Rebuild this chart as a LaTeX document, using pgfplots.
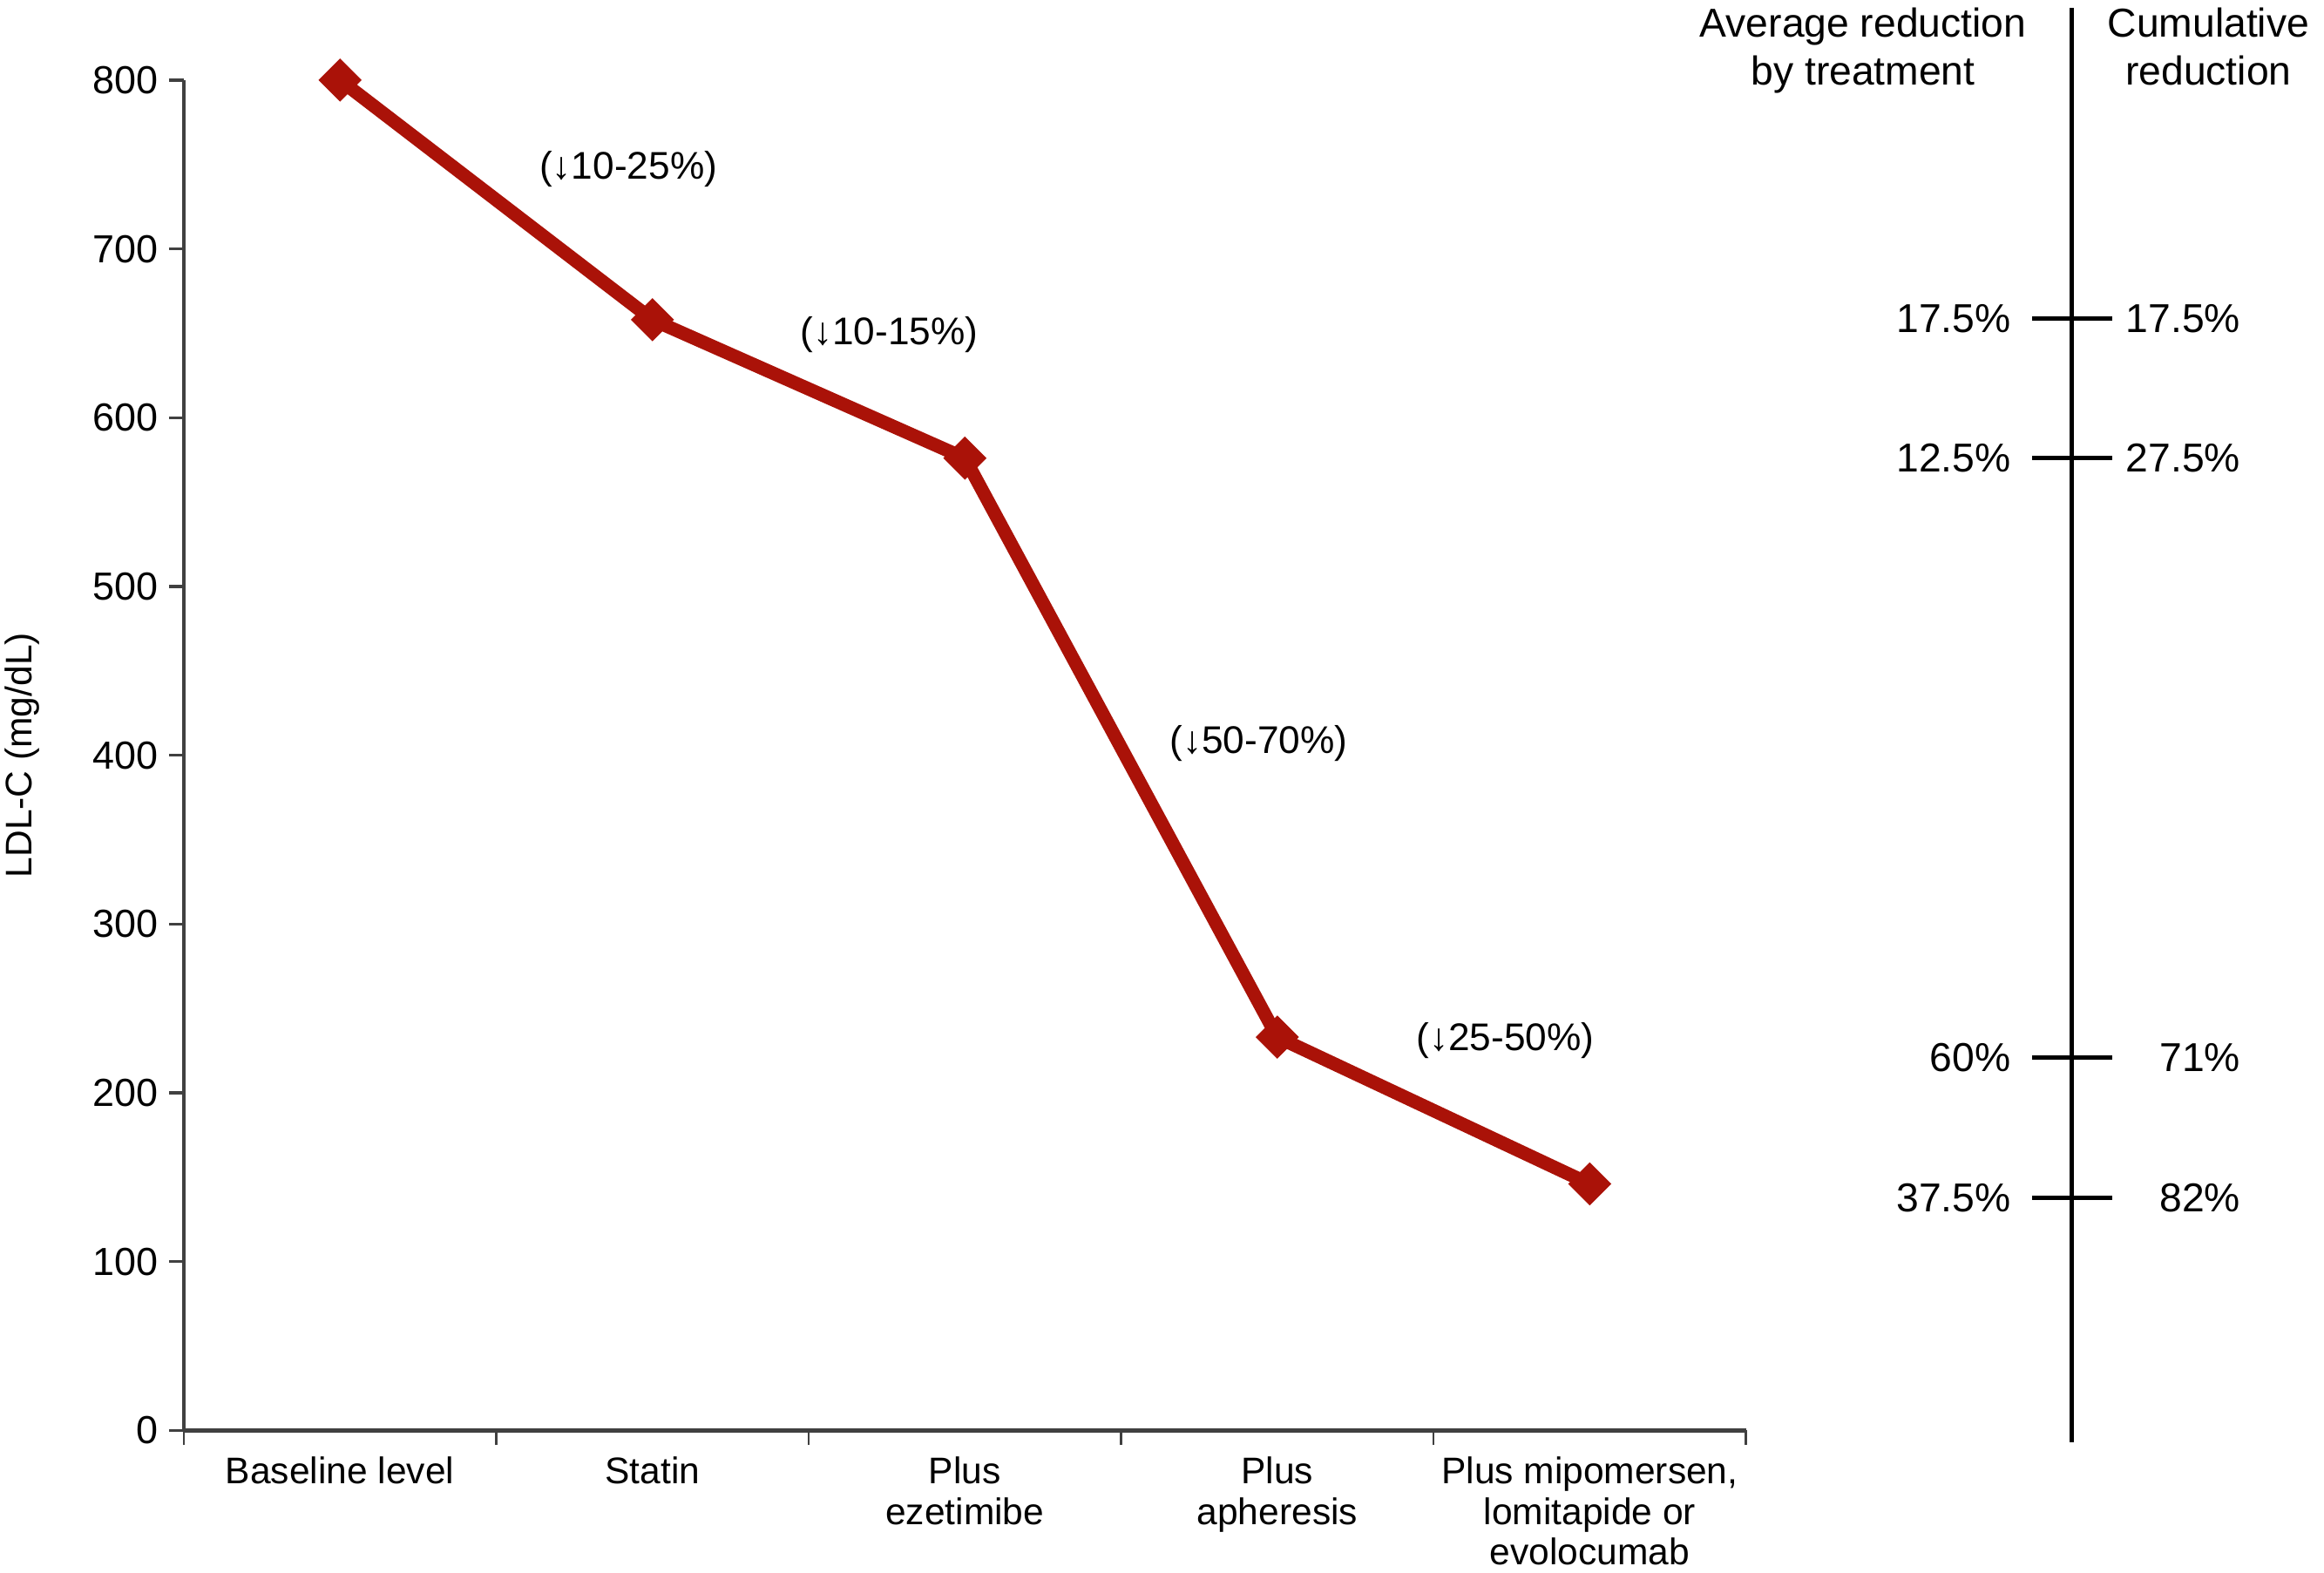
\documentclass[border=0pt]{standalone}
\usepackage{pgfplots}
\pgfplotsset{compat=1.18}
\usepackage{fontspec}
\setmainfont{Liberation Sans}
\definecolor{ldlred}{RGB}{170,18,8}
\newcommand\rfont{\fontsize{13.6}{16}\selectfont}

\begin{document}
\begin{tikzpicture}
\path[use as bounding box] (-62pt,-48pt) rectangle (722pt,482.5pt);

% main chart: LDL-C by treatment step
\begin{axis}[
    scale only axis,
    width=527pt, height=455.5pt,
    at={(0pt,0pt)}, anchor=south west,
    xmin=0, xmax=5, ymin=0, ymax=800,
    axis x line*=bottom, axis y line*=left,
    x axis line style={line width=1.5pt, black!75},
    y axis line style={line width=1pt, black!75},
    font=\fontsize{12.5}{13.6}\selectfont,
    /pgf/number format/assume math mode=true,
    ytick={0,100,...,800},
    yticklabel style={font=\fontsize{13.2}{15}\selectfont},
    xtick={0.5,1.5,2.5,3.5,4.5},
    xticklabels={Baseline level, Statin, {Plus\\ezetimibe}, {Plus\\apheresis}, {Plus mipomersen,\\lomitapide or\\evolocumab}},
    xticklabel style={align=center, anchor=north, yshift=-0.5pt},
    major x tick style={draw=none},
    minor xtick={0,1,...,5},
    minor x tick style={black!75, line width=0.8pt},
    minor tick length=5pt,
    major tick length=5pt,
    y tick style={black!75, line width=1pt},
    tick align=outside,
    ylabel={LDL-C (mg/dL)},
    every axis y label/.style={at={(axis description cs:-0.1034,0.5)}, rotate=90, anchor=center},
    clip=false,
]
\addplot[color=ldlred, line width=4.5pt, mark=square*, mark size=4.9pt,
         mark options={rotate=45, fill=ldlred, draw=ldlred, line width=0.5pt}]
  coordinates {(0.5,800) (1.5,658) (2.5,576) (3.5,233) (4.5,146)};
\node[font=\fontsize{13}{15}\selectfont] at (axis cs:1.423,747) {(↓10-25\%)};
\node[font=\fontsize{13}{15}\selectfont] at (axis cs:2.258,649) {(↓10-15\%)};
\node[font=\fontsize{13}{15}\selectfont] at (axis cs:3.44,407) {(↓50-70\%)};
\node[font=\fontsize{13}{15}\selectfont] at (axis cs:4.23,231) {(↓25-50\%)};
\end{axis}

% right-hand reduction scale
\begin{axis}[
    scale only axis,
    width=10pt, height=484pt,
    at={(637pt,-4pt)}, anchor=south west,
    xmin=0, xmax=1, ymin=-7, ymax=843,
    axis x line=none, axis y line*=left,
    y axis line style={line width=1.5pt, black},
    ytick={138,221,576,658.5}, yticklabels={},
    tick align=center, major tick length=27pt,
    y tick style={line width=1.5pt, black},
    clip=false,
]
\node[anchor=east, inner sep=0pt, font=\rfont] at (axis cs:0,658.5) [xshift=-20.5pt] {17.5\%};
\node[anchor=east, inner sep=0pt, font=\rfont] at (axis cs:0,576) [xshift=-20.5pt] {12.5\%};
\node[anchor=east, inner sep=0pt, font=\rfont] at (axis cs:0,221) [xshift=-20.5pt] {60\%};
\node[anchor=east, inner sep=0pt, font=\rfont] at (axis cs:0,138) [xshift=-20.5pt] {37.5\%};
\node[anchor=east, inner sep=0pt, font=\rfont] at (axis cs:0,658.5) [xshift=57pt] {17.5\%};
\node[anchor=east, inner sep=0pt, font=\rfont] at (axis cs:0,576) [xshift=57pt] {27.5\%};
\node[anchor=east, inner sep=0pt, font=\rfont] at (axis cs:0,221) [xshift=57pt] {71\%};
\node[anchor=east, inner sep=0pt, font=\rfont] at (axis cs:0,138) [xshift=57pt] {82\%};
\end{axis}

\node[anchor=north, align=center, inner sep=0pt, font=\rfont]
  at (566.5pt,480pt) {Average reduction\\by treatment};
\node[anchor=north, align=center, inner sep=0pt, font=\rfont]
  at (683pt,480pt) {Cumulative\\reduction};
\end{tikzpicture}
\end{document}
